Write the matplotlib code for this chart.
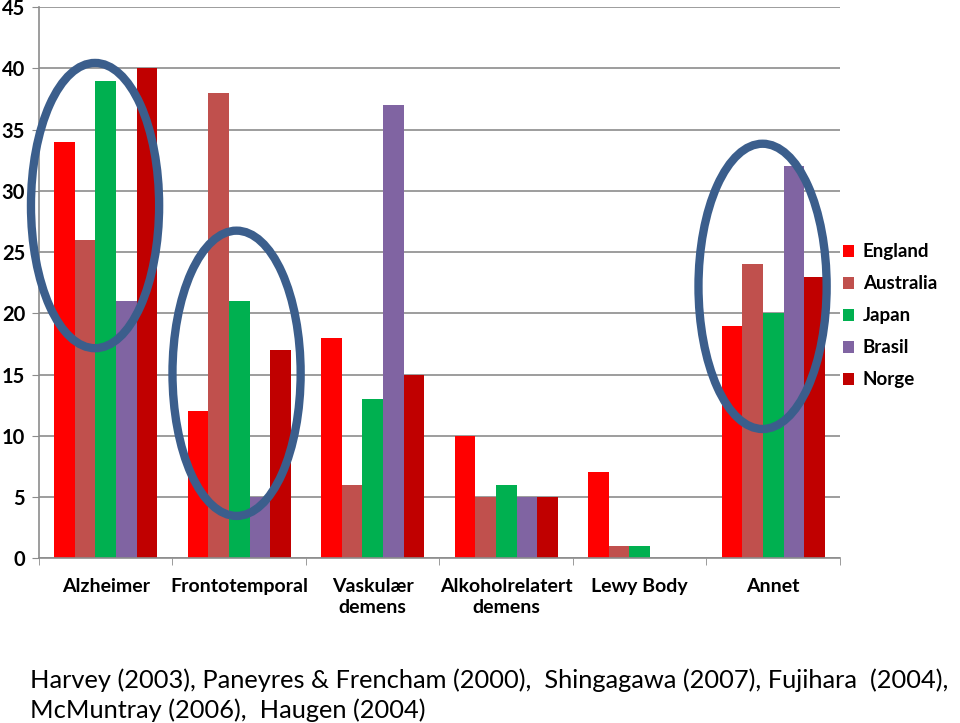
import numpy as np
from matplotlib import pyplot as plt
from matplotlib.patches import Ellipse

# data
categories = ["Alzheimer", "Frontotemporal", "Vaskulær\ndemens",
              "Alkoholrelatert\ndemens", "Lewy Body", "Annet"]
countries = ["England", "Australia", "Japan", "Brasil", "Norge"]
england = [34, 12, 18, 10, 7, 19]
australia = [26, 38, 6, 5, 1, 24]
japan = [39, 21, 13, 6, 1, 20]
brasil = [21, 5, 37, 5, 0, 32]
norge = [40, 17, 15, 5, 0, 23]
series = [england, australia, japan, brasil, norge]
colors = ["#FF0000", "#C0504D", "#00B050", "#8064A2", "#C00000"]
citation = ("Harvey (2003), Paneyres & Frencham (2000),  Shingagawa (2007), Fujihara  (2004),\n"
            "McMuntray (2006),  Haugen (2004)")

plt.rcParams['font.family'] = ['Lato', 'DejaVu Sans']

fig = plt.figure(figsize=(9.6, 7.23), dpi=100)
ax = fig.add_axes([0.0406, 0.228, 0.8344, 0.762])

x = np.arange(len(categories))
bar_w = 1 / 6.5  # excel gap width 150%
for i, (vals, col, name) in enumerate(zip(series, colors, countries)):
    ax.bar(x + (i - 2) * bar_w, vals, width=bar_w, color=col, label=name, zorder=2)

ax.set_xlim(-0.5, len(categories) - 0.5)
ax.set_ylim(0, 45)
ax.set_yticks(range(0, 46, 5))
ax.yaxis.grid(True, color="#8c8c8c", linewidth=1.2, zorder=0)
ax.set_axisbelow(True)
for s in ["top", "right"]:
    ax.spines[s].set_visible(False)
for s in ["left", "bottom"]:
    ax.spines[s].set_color("#8c8c8c")
    ax.spines[s].set_linewidth(1.2)

ax.set_xticks(x)
ax.set_xticklabels(categories, fontsize=14, fontweight="bold", linespacing=1.3)
ax.set_xticks(np.arange(-0.5, len(categories)), minor=True)
ax.tick_params(axis="x", which="major", length=0, pad=14)
ax.tick_params(axis="x", which="minor", length=5, color="#8c8c8c", direction="out")
ax.tick_params(axis="y", length=5, color="#8c8c8c", labelsize=14.5, pad=5)
for lab in ax.get_yticklabels():
    lab.set_fontweight("bold")

# ellipses highlighting groups
for cx, cy in [(-0.08, 28.8), (0.98, 15.1), (4.92, 22.2)]:
    e = Ellipse((cx, cy), 0.96, 23.3, fill=False, edgecolor="#3B5E8C",
                linewidth=6, zorder=5, clip_on=False)
    ax.add_patch(e)

leg = ax.legend(loc="center left", bbox_to_anchor=(1.004, 0.44), frameon=False,
                prop={"size": 13.5, "weight": "bold"}, handlelength=0.6,
                handleheight=0.6, handletextpad=0.45, labelspacing=0.8,
                borderaxespad=0, borderpad=0)

fig.text(0.031, 0.002, citation, fontsize=18.3, ha="left", va="bottom",
         linespacing=1.32)

fig.savefig("out.png", dpi=100)
